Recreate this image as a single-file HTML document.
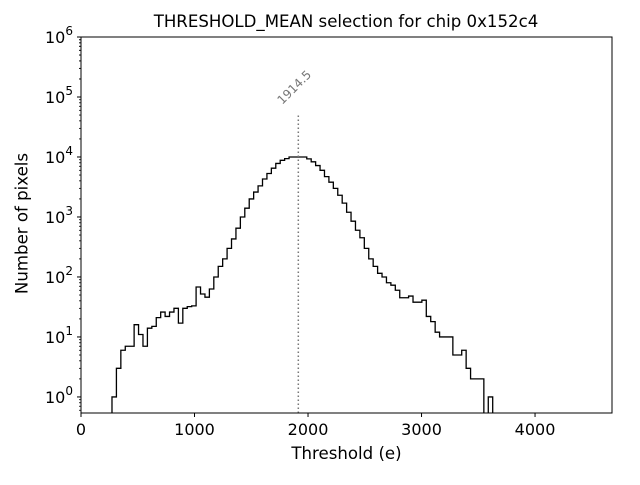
<!DOCTYPE html>
<html><head><meta charset="utf-8"><style>
body{margin:0;background:#fff}
svg{font-family:"DejaVu Sans","Liberation Sans",sans-serif}
</style></head><body>
<svg id="c" width="640" height="480" viewBox="0 0 640 480"></svg>
<script>
const binWidth = 39;
const binStart = 0;
const counts = [0,0,0,0,0,0,0,1,3,6,7,7,16,11,7,14,15,21,26,22,26,30,17,30,32,33,68,52,46,63,100,150,200,300,430,650,1000,1400,2000,2600,3300,4300,5300,6500,7800,8800,9400,10000,10000,10000,10000,9300,8300,7200,6000,4700,3800,3000,2300,1700,1200,850,600,450,300,200,150,115,100,80,73,60,45,45,48,38,38,41,22,18,12,10,10,10,5,5,6,3,2,2,2,0,1,0,0,0,0,0,0,0,0,0,0,0,0,0,0,0,0,0,0,0,0,0,0,0,0,0,0,0];
const xTicks = [0,1000,2000,3000,4000];
const yExps = [0,1,2,3,4,5,6];
const thresholdMean = 1914.5;
const markerTop = 54000;

const L=81,R=612,T=37,B=413, xMax=4678, yMin=0.54, yMax=1e6;
const X=v=>L+(v/xMax)*(R-L);
const Y=v=>B-(Math.log10(v)-Math.log10(yMin))/(Math.log10(yMax)-Math.log10(yMin))*(B-T);
const svg=document.getElementById('c');
const NS='http://www.w3.org/2000/svg';
function mk(t,a,p){const e=document.createElementNS(NS,t);for(const k in a)e.setAttribute(k,a[k]);(p||svg).appendChild(e);return e;}

const clip=mk('clipPath',{id:'pc'});mk('rect',{x:L,y:T,width:R-L,height:B-T},clip);

let d='',prevY=B+5;
counts.forEach((c,i)=>{
  const x0=X(binStart+i*binWidth),x1=X(binStart+(i+1)*binWidth);
  const y=c>0?Y(c):B+5;
  d+=(i===0?`M${x0},${y}`:`L${x0},${prevY}L${x0},${y}`)+`L${x1},${y}`;
  prevY=y;
});
const h=mk('path',{d:d,fill:'none',stroke:'#000','stroke-width':1.3,'clip-path':'url(#pc)'});



const ml=mk('line',{x1:X(thresholdMean),x2:X(thresholdMean),y1:B,y2:Y(markerTop),stroke:'#777','stroke-width':1.5,'stroke-dasharray':'1.5,2.5'});


const mx=X(thresholdMean)-16, my=Y(markerTop)-8;
const mt=mk('text',{x:mx,y:my,fill:'#777','font-size':12,transform:`rotate(-45 ${mx} ${my})`});
mt.textContent=String(thresholdMean);



const fr=mk('rect',{x:L,y:T,width:R-L,height:B-T,fill:'none',stroke:'#000','stroke-width':1});



xTicks.forEach(v=>{
  mk('line',{x1:X(v),x2:X(v),y1:B,y2:B+4,stroke:'#000'});
  const t=mk('text',{x:X(v),y:B+22,'font-size':16,'text-anchor':'middle'});
  t.textContent=v;
  
  
});
yExps.forEach(e=>{
  const y=Y(Math.pow(10,e));
  mk('line',{x1:L-4,x2:L,y1:y,y2:y,stroke:'#000'});
  const t=mk('text',{x:L-8,y:y+6,'font-size':16,'text-anchor':'end'});
  t.innerHTML=`10<tspan dy="-8" font-size="12">${e}</tspan>`;
  
  
  for(let m=2;m<10;m++){const v=m*Math.pow(10,e-1);if(v>yMin&&v<yMax){const yy=Y(v);mk('line',{x1:L-2,x2:L,y1:yy,y2:yy,stroke:'#000','stroke-width':0.8});}}
});
for(let m=2;m<10;m++){const v=m*Math.pow(10,5);const yy=Y(v);mk('line',{x1:L-2,x2:L,y1:yy,y2:yy,stroke:'#000','stroke-width':0.8});}
</script>
<div style="position:absolute;left:0;top:0;width:640px;height:480px;pointer-events:none;font-family:'DejaVu Sans','Liberation Sans',sans-serif">
<div style="position:absolute;left:0;width:692px;top:12px;text-align:center;font-size:16.6px;white-space:nowrap">THRESHOLD_MEAN selection for chip 0x152c4</div>
<div style="position:absolute;left:81px;width:531px;top:444px;text-align:center;font-size:16.6px">Threshold (e)</div>
<div style="position:absolute;left:-78px;top:214px;width:200px;text-align:center;font-size:16.6px;transform:rotate(-90deg)">Number of pixels</div>
</div>
</body></html>
